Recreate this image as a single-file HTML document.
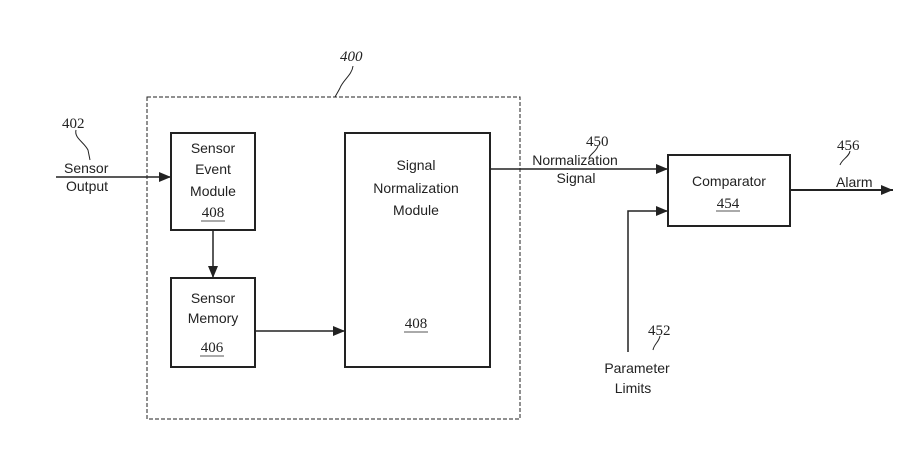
<!DOCTYPE html>
<html><head><style>body{margin:0;background:#fff}svg{display:block}text{font-family:"Liberation Sans",sans-serif;font-size:14px;fill:#222}.n{font-family:"Liberation Serif",serif;font-size:15px}</style></head><body>
<svg width="920" height="469" viewBox="0 0 920 469">
<defs><marker id="a" markerWidth="12" markerHeight="10" refX="12" refY="5" orient="auto" markerUnits="userSpaceOnUse"><path d="M0,0 L12,5 L0,10 z" fill="#222"/></marker></defs>
<g fill="none" stroke="#222">
<rect x="147" y="97" width="373" height="322" stroke-dasharray="4,2" stroke-width="1"/>
<rect x="171" y="133" width="84" height="97" stroke-width="2"/>
<rect x="171" y="278" width="84" height="89" stroke-width="2"/>
<rect x="345" y="133" width="145" height="234" stroke-width="2"/>
<rect x="668" y="155" width="122" height="71" stroke-width="2"/>
<line x1="56" y1="177" x2="171" y2="177" stroke-width="1.5" marker-end="url(#a)"/>
<line x1="213" y1="230" x2="213" y2="278" stroke-width="1.5" marker-end="url(#a)"/>
<line x1="255" y1="331" x2="345" y2="331" stroke-width="1.5" marker-end="url(#a)"/>
<line x1="490" y1="169" x2="668" y2="169" stroke-width="1.5" marker-end="url(#a)"/>
<polyline points="628,352 628,211 668,211" stroke-width="1.5" marker-end="url(#a)"/>
<line x1="790" y1="190" x2="893" y2="190" stroke-width="2" marker-end="url(#a)"/>
<path d="M353,66 C352,75 343,80 340,88 C338,92 336,95 335,97" stroke-width="1"/>
<path d="M76,130 C74,138 84,142 88,150 L90,160" stroke-width="1"/>
<path d="M598,146 C596,152 590,154 589,158" stroke-width="1"/>
<path d="M850,151 C849,157 842,159 840,165" stroke-width="1"/>
<path d="M660,336 C659,342 654,344 653,350" stroke-width="1"/>
</g>
<g stroke="#555" stroke-width="1"><line x1="201" y1="221" x2="225" y2="221"/><line x1="200" y1="356" x2="224" y2="356"/><line x1="404" y1="332" x2="428" y2="332"/><line x1="716" y1="211" x2="740" y2="211"/></g>
<text class="n" x="340" y="61" font-style="italic" font-size="16">400</text>
<text class="n" x="62" y="128">402</text>
<text x="64" y="173">Sensor</text><text x="66" y="191">Output</text>
<text x="213" y="153" text-anchor="middle">Sensor</text>
<text x="213" y="174" text-anchor="middle">Event</text>
<text x="213" y="196" text-anchor="middle">Module</text>
<text class="n" x="213" y="217" text-anchor="middle">408</text>
<text x="213" y="303" text-anchor="middle">Sensor</text>
<text x="213" y="323" text-anchor="middle">Memory</text>
<text class="n" x="212" y="352" text-anchor="middle">406</text>
<text x="416" y="170" text-anchor="middle">Signal</text>
<text x="416" y="193" text-anchor="middle">Normalization</text>
<text x="416" y="215" text-anchor="middle">Module</text>
<text class="n" x="416" y="328" text-anchor="middle">408</text>
<text class="n" x="586" y="146">450</text>
<text x="575" y="165" text-anchor="middle">Normalization</text>
<text x="576" y="183" text-anchor="middle">Signal</text>
<text x="729" y="186" text-anchor="middle">Comparator</text>
<text class="n" x="728" y="208" text-anchor="middle">454</text>
<text class="n" x="837" y="150">456</text>
<text x="836" y="187">Alarm</text>
<text class="n" x="648" y="335">452</text>
<text x="637" y="373" text-anchor="middle">Parameter</text>
<text x="633" y="393" text-anchor="middle">Limits</text>
</svg>
</body></html>
